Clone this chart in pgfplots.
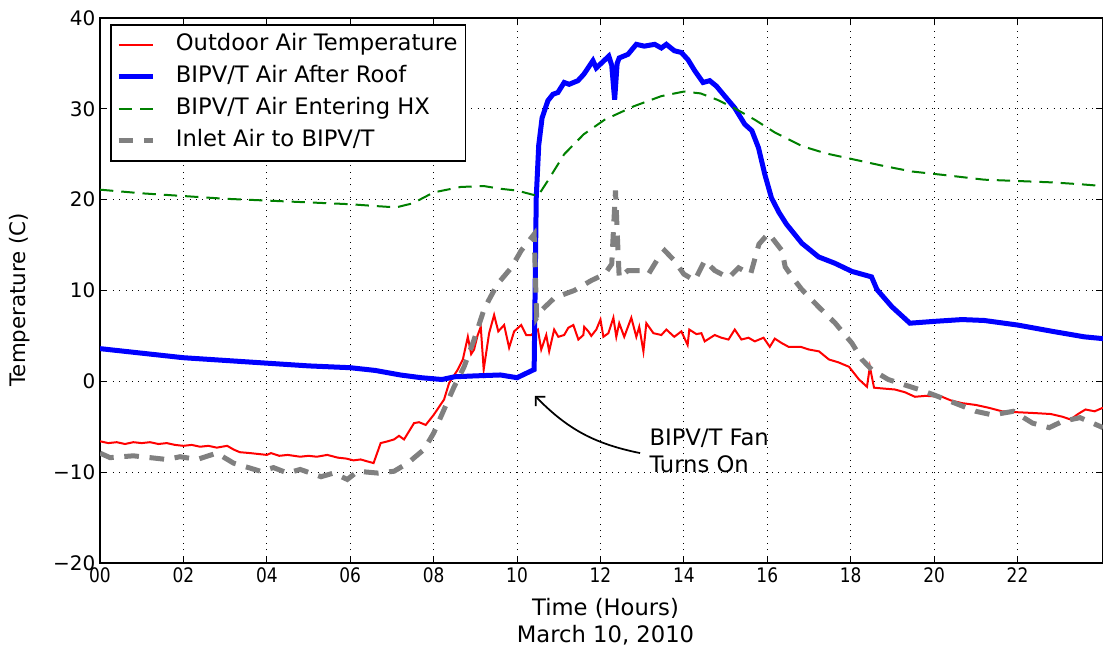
\documentclass[border=0pt]{standalone}
\usepackage{pgfplots}
\pgfplotsset{compat=1.18}
\usepackage{fontspec}
\setmainfont{DejaVu Sans}
\usepackage{graphicx}
\usetikzlibrary{arrows.meta}
\newcommand\cx[1]{\scalebox{0.85}[1]{#1}}
\begin{document}
\begin{tikzpicture}
\begin{axis}[
 at={(75pt,65.25pt)}, anchor=south west,
 scale only axis, width=752.25pt, height=408.75pt,
 xmin=0, xmax=24.05, ymin=-20, ymax=40,
 xtick={0,2,4,6,8,10,12,14,16,18,20,22},
 xticklabels={\cx{00},\cx{02},\cx{04},\cx{06},\cx{08},\cx{10},\cx{12},\cx{14},\cx{16},\cx{18},\cx{20},\cx{22}},
 ytick={-20,-10,0,10,20,30,40},
 yticklabels={−20,−10,0,10,20,30,40},
 ticklabel style={font=\fontsize{15}{18}\selectfont},
 grid=major,
 grid style={black, line width=0.6pt, dash pattern=on 0.8pt off 4pt},
 axis line style={line width=1.3pt},
 tick style={black, line width=0.6pt},
 major tick length=5pt,
 tick align=inside,
 xlabel={Time (Hours)\\March 10, 2010},
 xlabel style={align=center, font=\fontsize{17}{20}\selectfont, at={(axis description cs:0.504,-0.108)}, anchor=center},
 ylabel={Temperature (C)},
 ylabel style={font=\fontsize{16}{19}\selectfont, at={(axis description cs:-0.0798,0.483)}, anchor=center},
 legend cell align=left,
 legend image code/.code={\draw[#1] (9pt,0pt) -- (35pt,0pt);},
 legend style={at={(axis description cs:0.00997,0.989)}, anchor=north west,
   draw=black, line width=1.3pt, fill=white, font=\fontsize{17}{20}\selectfont,
   inner xsep=4pt, inner ysep=5pt, row sep=4pt, column sep=13pt,
   nodes={text height=12.5pt, text depth=3.5pt, inner ysep=2pt, inner xsep=2pt}},
]
% Outdoor Air Temperature
\addplot[red, line width=1.5pt] coordinates {
(0,-6.6)(0.2,-6.8)(0.4,-6.7)(0.6,-6.9)(0.8,-6.7)(1.0,-6.8)(1.2,-6.7)(1.4,-6.9)(1.6,-6.8)(1.8,-7.0)(2.0,-7.1)(2.2,-7.0)(2.4,-7.2)(2.6,-7.1)(2.8,-7.3)(3.05,-7.1)(3.2,-7.5)(3.35,-7.8)(3.6,-7.9)(3.8,-8.0)(4.0,-8.1)(4.1,-7.9)(4.3,-8.2)(4.5,-8.1)(4.8,-8.3)(5.0,-8.2)(5.2,-8.3)(5.45,-8.1)(5.7,-8.4)(5.9,-8.5)(6.08,-8.7)(6.25,-8.6)(6.4,-8.8)(6.56,-9.0)(6.73,-6.8)(6.9,-6.6)(7.05,-6.4)(7.17,-6.0)(7.29,-6.4)(7.53,-4.6)(7.65,-4.5)(7.81,-4.8)(8.0,-3.7)(8.25,-2.0)(8.37,-0.2)(8.58,1.3)(8.7,2.4)(8.82,4.9)(8.9,3.0)(8.97,3.5)(9.05,5.0)(9.13,6.0)(9.2,1.3)(9.33,5.3)(9.45,7.3)(9.55,5.5)(9.69,6.2)(9.81,3.7)(9.93,5.5)(10.1,6.2)(10.22,5.1)(10.34,5.1)(10.5,5.7)(10.58,3.5)(10.7,5.1)(10.77,3.3)(10.89,5.7)(10.99,4.9)(11.13,5.1)(11.23,5.9)(11.35,6.2)(11.47,4.6)(11.59,5.1)(11.61,6.0)(11.71,5.5)(11.78,5.0)(11.9,5.7)(12.0,6.8)(12.07,4.9)(12.19,5.3)(12.31,7.0)(12.38,4.9)(12.45,6.4)(12.57,4.9)(12.74,7.0)(12.86,4.9)(12.93,6.0)(13.03,3.3)(13.1,6.4)(13.27,5.3)(13.46,5.1)(13.58,5.7)(13.77,4.9)(13.94,5.5)(14.09,4.0)(14.13,5.7)(14.3,5.2)(14.42,5.3)(14.5,4.4)(14.74,5.1)(14.9,4.8)(15.07,4.6)(15.22,5.7)(15.38,4.6)(15.55,4.8)(15.7,4.4)(15.91,4.8)(16.06,3.8)(16.18,4.7)(16.35,4.2)(16.51,3.8)(16.8,3.8)(17.0,3.5)(17.24,3.3)(17.48,2.4)(17.7,2.1)(17.96,1.6)(18.2,0.2)(18.39,-0.6)(18.46,1.6)(18.56,-0.7)(18.8,-0.8)(19.06,-0.9)(19.3,-1.2)(19.54,-1.7)(19.8,-1.6)(20.19,-1.7)(20.4,-2.1)(20.67,-2.4)(21.0,-2.6)(21.3,-2.9)(21.63,-3.3)(22.0,-3.4)(22.43,-3.5)(22.8,-3.6)(23.08,-3.9)(23.27,-4.2)(23.45,-3.6)(23.63,-3.1)(23.85,-3.3)(24.05,-2.9)
};
\addlegendentry{Outdoor Air Temperature}
% BIPV/T Air After Roof
\addplot[blue, line width=3.75pt] coordinates {
(0,3.6)(1.0,3.1)(2.0,2.6)(3.0,2.3)(4.0,2.0)(5.0,1.7)(6.0,1.5)(6.6,1.2)(7.2,0.7)(7.7,0.4)(8.2,0.2)(8.5,0.5)(9.0,0.6)(9.6,0.7)(10.0,0.4)(10.41,1.3)(10.46,20.2)(10.52,26.0)(10.6,29.0)(10.74,30.9)(10.86,31.6)(10.98,31.8)(11.13,32.9)(11.25,32.7)(11.46,33.1)(11.6,33.8)(11.82,35.3)(11.9,34.5)(12.2,35.8)(12.27,34.8)(12.34,31.0)(12.4,35.0)(12.45,35.6)(12.66,36.0)(12.86,37.1)(13.05,36.9)(13.3,37.1)(13.46,36.7)(13.58,37.1)(13.77,36.4)(13.94,36.2)(14.1,35.4)(14.26,34.2)(14.46,32.9)(14.62,33.1)(14.78,32.5)(14.98,31.4)(15.22,30.1)(15.46,28.3)(15.63,27.6)(15.79,25.7)(15.94,22.8)(16.1,20.2)(16.28,18.6)(16.46,17.3)(16.83,15.2)(17.23,13.7)(17.62,13.0)(18.03,12.1)(18.5,11.5)(18.63,10.1)(18.99,8.2)(19.42,6.4)(20.0,6.6)(20.67,6.8)(21.2,6.7)(22.0,6.2)(22.84,5.5)(23.6,4.9)(24.05,4.7)
};
\addlegendentry{BIPV/T Air After Roof}
% BIPV/T Air Entering HX
\addplot[color={rgb,255:red,0;green,128;blue,0}, line width=1.5pt, dash pattern=on 10pt off 6pt] coordinates {
(0,21.1)(1.0,20.7)(2,20.4)(3,20.1)(4,19.9)(5,19.7)(6,19.5)(6.6,19.3)(7.1,19.15)(7.5,19.6)(8.0,20.8)(8.65,21.4)(9.2,21.5)(9.6,21.2)(10.0,21.0)(10.5,20.4)(10.74,22.1)(11.13,25.0)(11.6,27.2)(12.1,28.8)(12.81,30.3)(13.46,31.4)(14.0,31.9)(14.4,31.7)(14.8,31.0)(15.2,30.1)(15.7,28.8)(16.18,27.4)(16.83,25.9)(17.4,25.1)(18.1,24.4)(18.8,23.7)(19.47,23.1)(20.27,22.7)(21.2,22.2)(22.3,22.0)(22.84,21.9)(23.5,21.7)(24.05,21.5)
};
\addlegendentry{BIPV/T Air Entering HX}
% Inlet Air to BIPV/T
\addplot[color={rgb,255:red,128;green,128;blue,128}, line width=3.75pt, dash pattern=on 11pt off 8pt] coordinates {
(0,-7.9)(0.24,-8.4)(0.8,-8.2)(1.6,-8.6)(1.92,-8.3)(2.33,-8.6)(2.8,-7.9)(3.2,-9.0)(3.85,-9.9)(4.16,-9.5)(4.5,-10.1)(4.8,-9.7)(5.3,-10.5)(5.6,-10.1)(5.93,-10.8)(6.18,-9.9)(6.66,-10.1)(7.05,-9.9)(7.38,-9.0)(7.77,-7.5)(8.0,-5.7)(8.25,-3.1)(8.49,-0.6)(8.73,1.6)(8.97,4.6)(9.2,7.8)(9.33,9.0)(9.53,10.7)(9.86,12.5)(10.1,14.4)(10.41,16.2)(10.47,7.0)(10.58,7.8)(10.9,9.2)(11.37,10.0)(11.78,11.1)(12.1,11.8)(12.27,12.9)(12.36,21.0)(12.42,14.4)(12.45,11.4)(12.66,12.2)(12.98,12.2)(13.15,11.8)(13.39,13.6)(13.54,14.4)(13.77,13.3)(14.0,11.8)(14.26,11.1)(14.5,13.3)(14.74,12.2)(15.07,11.4)(15.31,12.5)(15.6,11.8)(15.8,15.1)(16.03,16.3)(16.35,14.4)(16.43,12.6)(16.66,11.1)(16.83,10.1)(17.23,8.2)(17.63,6.4)(18.03,4.2)(18.27,2.4)(18.5,1.3)(18.9,0.2)(19.3,-0.4)(19.64,-0.9)(20.0,-1.5)(20.5,-2.4)(21.0,-3.3)(21.4,-3.7)(21.9,-3.3)(22.36,-4.6)(22.76,-5.1)(23.08,-4.4)(23.5,-4.0)(23.8,-4.6)(24.05,-5.1)
};
\addlegendentry{Inlet Air to BIPV/T}
\draw[black, line width=1.3pt, -{Straight Barb[length=5pt,width=10pt]}] (axis cs:12.95,-7.9) to[bend left=17] (axis cs:10.43,-1.6);
\node[anchor=west, align=left, inner sep=0pt, font=\fontsize{17}{20}\selectfont] at (axis cs:13.17,-7.65) {BIPV/T Fan\\Turns On};
\end{axis}
\pgfresetboundingbox
\path[use as bounding box] (0,0) rectangle (827.25pt,487.5pt);
\end{tikzpicture}
\end{document}
